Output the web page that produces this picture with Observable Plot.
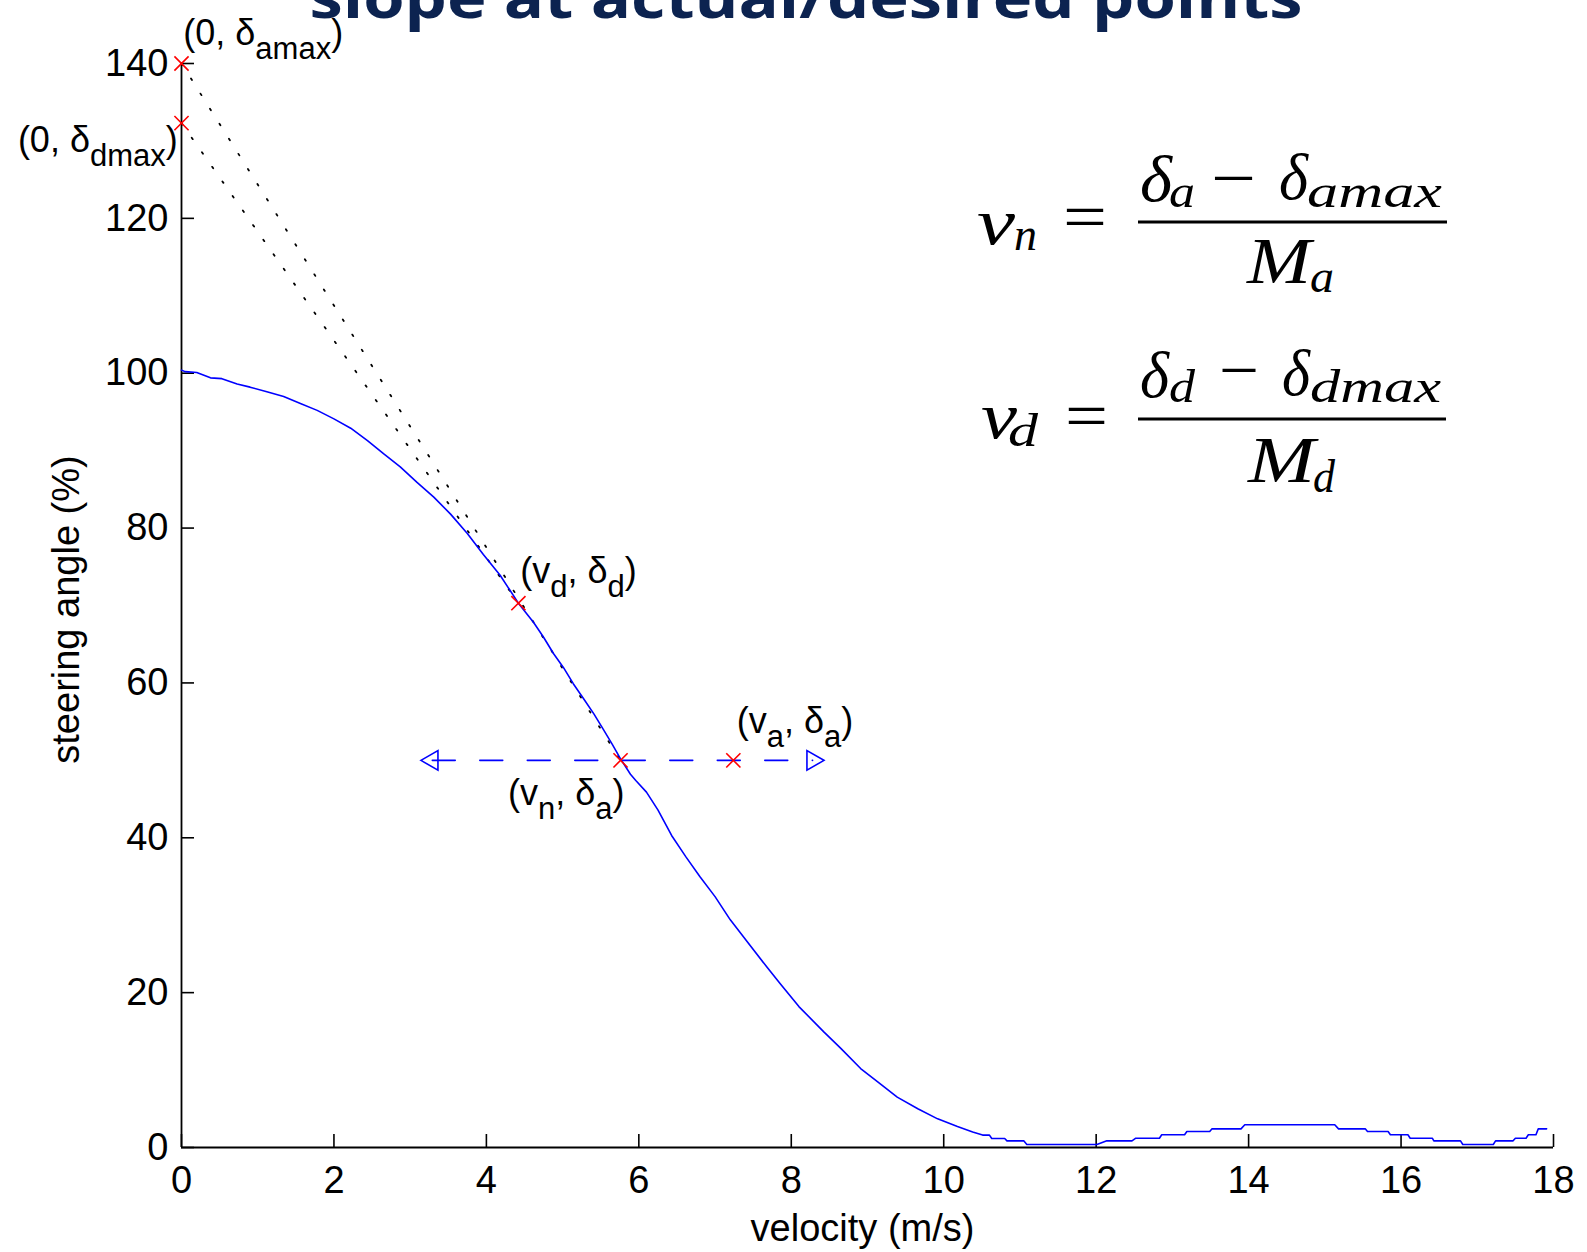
<!DOCTYPE html>
<html>
<head>
<meta charset="utf-8">
<script src="https://cdn.jsdelivr.net/npm/d3@7"></script>
<script src="https://cdn.jsdelivr.net/npm/@observablehq/plot@0.6"></script>
<style>
  html, body { margin: 0; padding: 0; background: #fff; overflow: hidden; }
  #chart { position: relative; width: 1587px; height: 1252px; }
</style>
</head>
<body>
<div id="chart"></div>
<script>
// ---------- data ----------
const title = "slope at actual/desired points";
const xLabel = "velocity (m/s)";
const yLabel = "steering angle (%)";
const xTicks = [0, 2, 4, 6, 8, 10, 12, 14, 16, 18];
const yTicks = [0, 20, 40, 60, 80, 100, 120, 140];

const velocity = [0, 0.05, 0.2, 0.38, 0.53, 0.73, 0.9, 1.12, 1.34, 1.56, 1.78, 2.0, 2.22, 2.44, 2.65, 2.87, 3.09, 3.31, 3.53, 3.75,
  3.96, 4.18, 4.42, 4.62, 4.75, 4.88, 5.01, 5.14, 5.28, 5.41, 5.54, 5.65, 5.76, 5.89, 5.96, 6.10, 6.25, 6.43, 6.62, 6.80,
  7.00, 7.20, 7.42, 7.68, 7.85, 8.10, 8.43, 8.65, 8.91, 9.13, 9.39, 9.66, 9.92, 10.18, 10.38, 10.51, 10.6, 10.63, 10.8, 10.83,
  11.05, 11.09, 12.01, 12.14, 12.47, 12.52, 12.83, 12.86, 13.16, 13.19, 13.49, 13.52, 13.9, 13.95, 15.13, 15.18, 15.53, 15.56,
  15.83, 15.86, 16.09, 16.12, 16.41, 16.43, 16.78, 16.81, 17.21, 17.24, 17.47, 17.5, 17.64, 17.67, 17.77, 17.8, 17.91];
const angle = [100.4, 100.2, 100.1, 99.4, 99.3, 98.6, 98.2, 97.6, 97.0, 96.1, 95.2, 94.1, 92.9, 91.3, 89.6, 87.9, 85.9, 84.0, 81.8, 79.3,
  76.6, 73.9, 70.3, 67.8, 65.9, 63.8, 62.0, 59.9, 57.9, 56.0, 53.9, 52.1, 50.2, 48.2, 47.4, 45.9, 43.6, 40.3, 37.5, 35.0,
  32.4, 29.4, 26.6, 23.3, 21.2, 18.2, 14.9, 12.8, 10.2, 8.5, 6.5, 5.0, 3.7, 2.7, 2.0, 1.6, 1.6, 1.16, 1.16, 0.86,
  0.86, 0.39, 0.39, 0.86, 0.86, 1.2, 1.2, 1.64, 1.64, 2.07, 2.07, 2.41, 2.41, 2.93, 2.93, 2.41, 2.41, 2.07,
  2.07, 1.64, 1.64, 1.2, 1.2, 0.86, 0.86, 0.39, 0.39, 0.86, 0.86, 1.2, 1.2, 1.64, 1.64, 2.41, 2.41];

// red "x" points: (0,δamax), (0,δdmax), (vd,δd), (vn,δa), (va,δa)
const pointV = [0, 0, 4.42, 5.76, 7.24];
const pointS = [140, 132.3, 70.3, 50, 50];

// dashed arrow at δa
const arrowV = [3.29, 8.28];
const arrowS = [50, 50];
const arrowRotate = [-90, 90];

// dotted tangent lines
const tangentAV = [0, 5.76];
const tangentAS = [140, 50];
const tangentDV = [0, 4.42];
const tangentDS = [132.3, 70.3];

// point labels (text pieces: [string, isSubscript]) and their anchors in data units
const labelParts = [
  [["(0, δ", 0], ["amax", 1], [")", 0]],
  [["(0, δ", 0], ["dmax", 1], [")", 0]],
  [["(v", 0], ["d", 1], [", δ", 0], ["d", 1], [")", 0]],
  [["(v", 0], ["a", 1], [", δ", 0], ["a", 1], [")", 0]],
  [["(v", 0], ["n", 1], [", δ", 0], ["a", 1], [")", 0]]
];
const labelV = [0.03, -2.14, 4.45, 7.29, 4.29];
const labelS = [142.3, 128.5, 72.8, 53.5, 44.2];

// ---------- build tables ----------
const curve = velocity.map((v, i) => ({v, s: angle[i]}));
const points = pointV.map((v, i) => ({v, s: pointS[i]}));
const arrows = arrowV.map((v, i) => ({v, s: arrowS[i], rot: arrowRotate[i]}));
const tangentA = tangentAV.map((v, i) => ({v, s: tangentAS[i]}));
const tangentD = tangentDV.map((v, i) => ({v, s: tangentDS[i]}));

const plot = Plot.plot({
  width: 1587,
  height: 1252,
  marginLeft: 181,
  marginRight: 34,
  marginTop: 63,
  marginBottom: 105,
  x: {domain: [0, 18]},
  y: {domain: [0, 140]},
  style: {fontFamily: "'Liberation Sans', Arial, sans-serif", fontSize: "38px", color: "black", background: "white", overflow: "visible"},
  marks: [
    // inward ticks
    Plot.axisX(xTicks, {tickSize: 13, dy: -13, tickFormat: () => "", label: null, strokeWidth: 1.6}),
    Plot.axisY(yTicks, {tickSize: 13, dx: 13, tickFormat: () => "", label: null, strokeWidth: 1.6}),
    // tick labels
    Plot.axisX(xTicks, {tickSize: 0, tickPadding: 19, label: null}),
    Plot.axisY(yTicks, {tickSize: 0, tickPadding: 13, label: null}),
    // axis lines
    Plot.ruleX([0], {stroke: "black", strokeWidth: 1.8}),
    Plot.ruleY([0], {stroke: "black", strokeWidth: 1.8}),
    // axis titles
    Plot.text([xLabel], {text: d => d, frameAnchor: "bottom", textAnchor: "middle", lineAnchor: "middle", dy: 81, dx: -5, fontSize: 38}),
    Plot.text([yLabel], {text: d => d, frameAnchor: "left", textAnchor: "middle", lineAnchor: "middle", rotate: -90, dx: -115, dy: 4, fontSize: 38}),
    // dotted tangents
    Plot.line(tangentA, {x: "v", y: "s", stroke: "black", strokeWidth: 1.8, strokeDasharray: "1.8,16"}),
    Plot.line(tangentD, {x: "v", y: "s", stroke: "black", strokeWidth: 1.8, strokeDasharray: "1.8,16"}),
    // the curve
    Plot.line(curve, {x: "v", y: "s", stroke: "#0000ff", strokeWidth: 1.6}),
    // dashed arrow
    Plot.line(arrows, {x: "v", y: "s", stroke: "#0000ff", strokeWidth: 1.6, strokeDasharray: "23,24.5"}),
    Plot.dot(arrows, {x: "v", y: "s", symbol: "triangle", r: 7.3, rotate: "rot", fill: "none", stroke: "#0000ff", strokeWidth: 1.6}),
    // red markers
    Plot.dot(points, {x: "v", y: "s", symbol: "times", r: 6.5, stroke: "#ff0000", strokeWidth: 1.6})
  ]
});

document.getElementById("chart").appendChild(plot);

const svg = d3.select(plot);
const xs = plot.scale("x");
const ys = plot.scale("y");

// point labels with subscripts
labelParts.forEach((parts, i) => {
  const t = svg.append("text")
    .attr("x", xs.apply(labelV[i]))
    .attr("y", ys.apply(labelS[i]))
    .attr("text-anchor", "start")
    .attr("font-family", "'Liberation Sans', Arial, sans-serif")
    .attr("font-size", 36)
    .attr("fill", "black");
  let sub = false;
  parts.forEach(([str, isSub]) => {
    const ts = t.append("tspan").text(str);
    if (isSub && !sub) ts.attr("dy", 14);
    if (!isSub && sub) ts.attr("dy", -14);
    ts.attr("font-size", isSub ? 31 : 36);
    sub = !!isSub;
  });
});

// title (clipped at the top edge as in the reference)
svg.append("text")
  .attr("x", 806)
  .attr("y", 18)
  .attr("text-anchor", "middle")
  .attr("font-family", "'Open Sans', 'DejaVu Sans', sans-serif")
  .attr("font-weight", 700)
  .attr("font-size", 58)
  .attr("textLength", 993)
  .attr("lengthAdjust", "spacingAndGlyphs")
  .attr("fill", "#0c2350")
  .text(title);

// formulas (LaTeX style)
const formulas = [
  {bar: [1138, 1447, 222], pieces: [
    ["v", 977, 244, 66, true, 38], ["n", 1014, 250, 46, true, 23], ["=", 1063, 239, 66, false, 44],
    ["δ", 1140, 201, 66, true, 32], ["a", 1169, 207, 46, true, 26], ["−", 1211, 200, 66, false, 45],
    ["δ", 1279, 199, 66, true, 29], ["amax", 1307, 207, 46, true, 135],
    ["M", 1247, 283, 66, true, 64], ["a", 1310, 292, 46, true, 24]]},
  {bar: [1138, 1446, 419], pieces: [
    ["v", 981, 438, 66, true, 36], ["d", 1008, 446, 46, true, 30], ["=", 1065, 438, 66, false, 43],
    ["δ", 1140, 397, 66, true, 29], ["d", 1169, 402, 46, true, 26], ["−", 1219, 392, 66, false, 40],
    ["δ", 1282, 395, 66, true, 28], ["dmax", 1310, 402, 46, true, 131],
    ["M", 1248, 482, 66, true, 67], ["d", 1313, 492, 46, true, 22]]}
];
formulas.forEach(f => {
  const g = svg.append("g").attr("text-anchor", "start");
  g.append("line").attr("x1", f.bar[0]).attr("x2", f.bar[1]).attr("y1", f.bar[2]).attr("y2", f.bar[2])
    .attr("stroke", "black").attr("stroke-width", 3.2);
  f.pieces.forEach(([str, x, y, size, italic, len]) => {
    g.append("text")
      .attr("x", x).attr("y", y)
      .attr("text-anchor", "start")
      .attr("font-family", "'Liberation Serif', 'DejaVu Serif', serif")
      .attr("font-style", italic ? "italic" : "normal")
      .attr("font-size", size)
      .attr("textLength", len)
      .attr("lengthAdjust", "spacingAndGlyphs")
      .attr("fill", "black")
      .text(str);
  });
});
</script>
</body>
</html>
